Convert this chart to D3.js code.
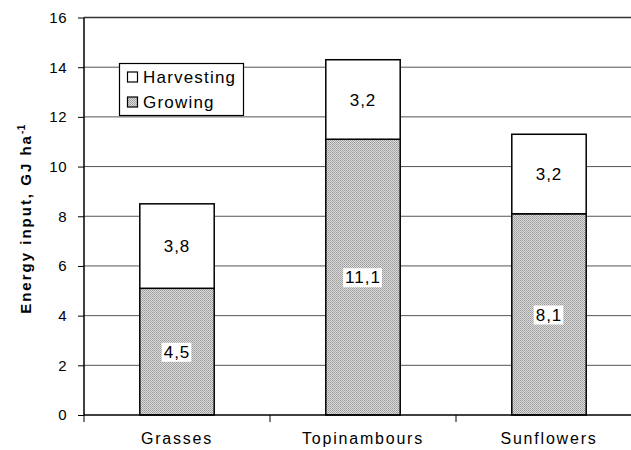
<!DOCTYPE html>
<html><head><meta charset="utf-8">
<script src="https://cdn.jsdelivr.net/npm/d3@7"></script>
<style>
html,body{margin:0;padding:0;background:#fff;}
svg{display:block;font-family:"Liberation Sans",Arial,sans-serif;}
</style></head><body>
<svg id="c" width="631" height="450"></svg>
<script>
const categories = ["Grasses", "Topinambours", "Sunflowers"];
const growing = [5.1, 11.1, 8.1];
const harvesting = [3.4, 3.2, 3.2];
const growingLabels = ["4,5", "11,1", "8,1"];
const harvestingLabels = ["3,8", "3,2", "3,2"];
const yTicks = [0, 2, 4, 6, 8, 10, 12, 14, 16];
const seriesNames = ["Harvesting", "Growing"];

(function(){
const svg = d3.select("#c");
const mLeft = 84, mRight = 642, mTop = 17.5, mBottom = 415;

const defs = svg.append("defs");
const pat = defs.append("pattern").attr("id","dots").attr("patternUnits","userSpaceOnUse")
  .attr("width",2).attr("height",2);
pat.append("rect").attr("width",2).attr("height",2).attr("fill","#dcdcdc");
pat.append("rect").attr("width",1).attr("height",1).attr("fill","#9a9a9a");
pat.append("rect").attr("x",1).attr("y",1).attr("width",1).attr("height",1).attr("fill","#a8a8a8");

const x = d3.scaleBand().domain(categories).range([mLeft, mRight]).paddingInner(0.6).paddingOuter(0.3);
const xb = d3.scaleBand().domain(categories).range([mLeft, mRight]);
const y = d3.scaleLinear().domain([0, 16]).range([mBottom, mTop]);

// gridlines
svg.append("g").selectAll("line").data(yTicks.filter(d=>d>0)).join("line")
  .attr("x1", mLeft).attr("x2", 631).attr("y1", d=>y(d)).attr("y2", d=>y(d))
  .attr("stroke", d => d===16 ? "#333" : "#555").attr("stroke-width", d => d===16 ? 1.5 : 1);

// bars
const g = svg.append("g");
categories.forEach((c,i)=>{
  g.append("rect").attr("x", x(c)).attr("width", x.bandwidth())
    .attr("y", y(growing[i])).attr("height", y(0)-y(growing[i]))
    .attr("fill","url(#dots)").attr("stroke","#000").attr("stroke-width",1.5);
  g.append("rect").attr("x", x(c)).attr("width", x.bandwidth())
    .attr("y", y(growing[i]+harvesting[i])).attr("height", y(growing[i])-y(growing[i]+harvesting[i]))
    .attr("fill","#fff").attr("stroke","#000").attr("stroke-width",1.5);
});

// labels
categories.forEach((c,i)=>{
  const cx = x(c)+x.bandwidth()/2;
  const gy = (y(0)+y(growing[i]))/2;
  const t = svg.append("text").attr("x", cx).attr("y", gy).attr("dy","0.36em")
    .attr("text-anchor","middle").attr("font-size",17).attr("letter-spacing",1).text(growingLabels[i]);
  const bb = t.node().getBBox();
  svg.insert("rect", () => t.node()).attr("x", bb.x-2).attr("y", bb.y).attr("width", bb.width+3).attr("height", bb.height).attr("fill","#fff");
  const hy = (y(growing[i])+y(growing[i]+harvesting[i]))/2;
  svg.append("text").attr("x", cx).attr("y", hy).attr("dy","0.36em")
    .attr("text-anchor","middle").attr("font-size",17).attr("letter-spacing",1).text(harvestingLabels[i]);
});

// y axis
const ya = svg.append("g").attr("transform",`translate(${mLeft},0)`)
  .call(d3.axisLeft(y).tickValues(yTicks).tickSize(6).tickPadding(11).tickFormat(d3.format("d")));
ya.select(".domain").attr("stroke","#000").attr("stroke-width",1.5).attr("d",`M0,${mTop}V${mBottom}`);
ya.selectAll(".tick line").attr("stroke","#000");
ya.selectAll("text").attr("font-size",15).attr("letter-spacing",0.5).attr("font-family","Liberation Sans, Arial, sans-serif").attr("fill","#000");

// x axis
const xa = svg.append("g").attr("transform",`translate(0,${mBottom})`)
  .call(d3.axisBottom(xb).tickSize(0).tickPadding(18));
xa.select(".domain").remove();
svg.append("line").attr("x1",mLeft).attr("x2",631).attr("y1",mBottom).attr("y2",mBottom).attr("stroke","#000").attr("stroke-width",1.5);
svg.append("g").selectAll("line").data(categories).join("line")
  .attr("x1", d=>xb(d)).attr("x2", d=>xb(d)).attr("y1", mBottom).attr("y2", mBottom+7).attr("stroke","#000");
xa.selectAll("text").attr("font-size",16).attr("letter-spacing",1.8).attr("font-family","Liberation Sans, Arial, sans-serif").attr("fill","#000");

// y title
const tt = svg.append("text").attr("transform","translate(31,219) rotate(-90)")
  .attr("text-anchor","middle").attr("font-size",15).attr("font-weight","bold").attr("letter-spacing",2);
tt.append("tspan").text("Energy input, GJ ha");
tt.append("tspan").attr("font-size",10).attr("dy",-6).attr("letter-spacing",0.5).text("-1");

// legend
const lg = svg.append("g");
lg.append("rect").attr("x",119.5).attr("y",63.5).attr("width",124).attr("height",52).attr("fill","#fff").attr("stroke","#000").attr("stroke-width",1.2);
seriesNames.forEach((s,i)=>{
  const yy = 72 + i*25;
  lg.append("rect").attr("x",127.5).attr("y",yy).attr("width",10).attr("height",10)
    .attr("fill", i===0 ? "#fff" : "url(#dots)").attr("stroke","#000").attr("stroke-width",1.2);
  lg.append("text").attr("x",143).attr("y",yy+11).attr("font-size",17).attr("letter-spacing",1.2).text(s);
});
})();
</script>
</body></html>
